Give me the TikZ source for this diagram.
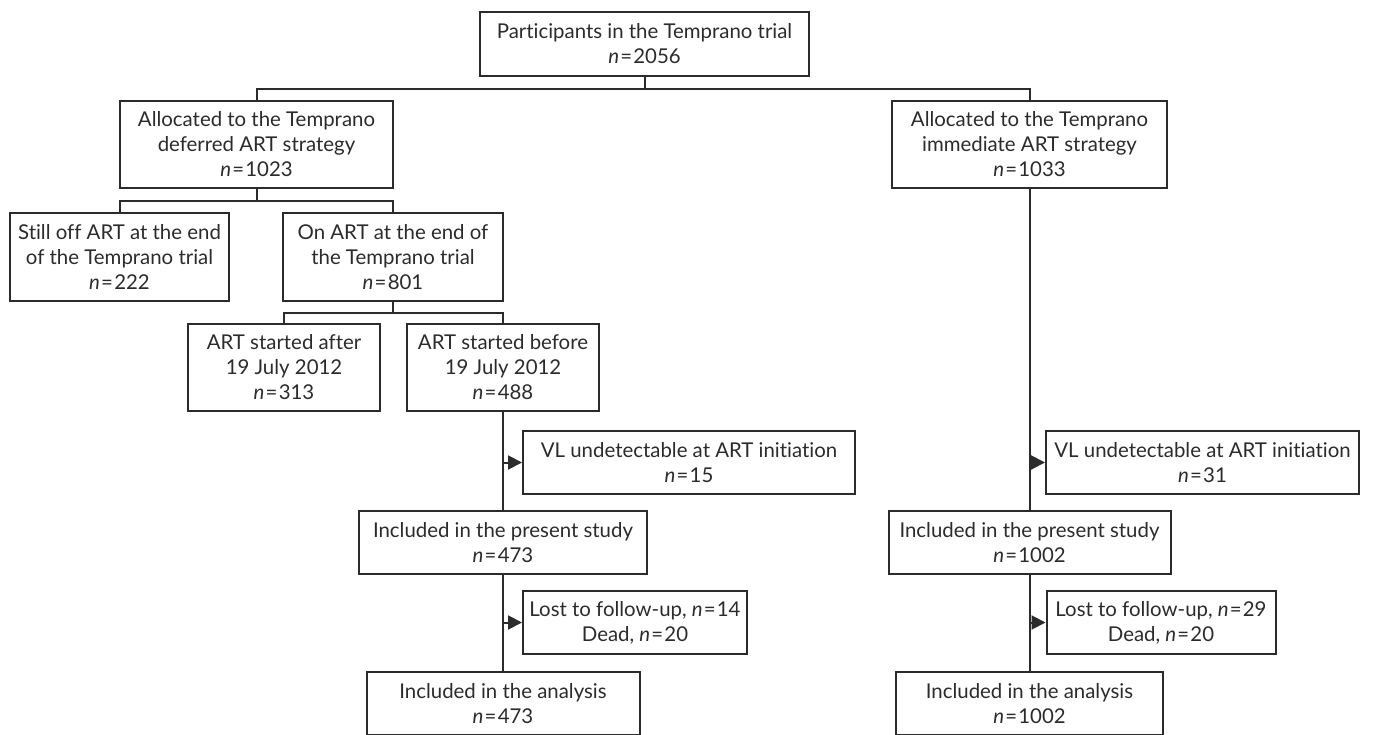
\documentclass[tikz,border=0pt]{standalone}
\usepackage{fontspec}
\setmainfont{Lato}[Ligatures={NoCommon,NoRequired,NoContextual}]
\usetikzlibrary{arrows.meta}

\definecolor{inkgray}{HTML}{2B2B2B}
\newcommand{\nval}[1]{\textit{n}\kern0.6pt=\kern0.6pt#1}

\begin{document}
\begin{tikzpicture}[
    x=0.5pt, y=-0.5pt,
    align=center,
    font=\fontsize{10.2}{12.5}\selectfont,
    text=inkgray,
    base/.style={rectangle, draw=inkgray, line width=1pt, inner sep=0pt},
    box/.style={base, minimum height=43.5pt},
    flat/.style={base, minimum height=31.5pt},
    link/.style={inkgray, line width=1pt},
    side/.style={link, -{Triangle[length=7pt,width=7pt]}}
  ]
  \useasboundingbox (0,0) rectangle (1376,734);

  \node (trial)   [flat, minimum width=164.5pt, minimum height=32pt] at (644.5,44)
                  {Participants in the Temprano trial\\ \nval{2056}};

  \node (deferred) [box, minimum width=136.5pt] at (256.5,144.5)
                  {Allocated to the Temprano\\ deferred ART strategy\\ \nval{1023}};
  \node (immed)   [box, minimum width=137.5pt] at (1029.5,144.5)
                  {Allocated to the Temprano\\ immediate ART strategy\\ \nval{1033}};

  \node (offart)  [box, minimum width=109.5pt, minimum height=44pt] at (119.5,257)
                  {Still off ART at the end\\ of the Temprano trial\\ \nval{222}};
  \node (onart)   [box, minimum width=110pt, minimum height=44pt] at (393,257)
                  {On ART at the end of\\ the Temprano trial\\ \nval{801}};

  \node (after)   [box, minimum width=96pt] at (284,367.5)
                  {ART started after\\ 19 July 2012\\ \nval{313}};
  \node (before)  [box, minimum width=96pt] at (503,367.5)
                  {ART started before\\ 19 July 2012\\ \nval{488}};

  % deferred arm, lower part
  \node (vlL)     [flat, minimum width=166pt] at (689,462.5)
                  {VL undetectable at ART initiation\\ \nval{15}};
  \node (studyL)  [flat, minimum width=144pt] at (503,542.5)
                  {Included in the present study\\ \nval{473}};
  \node (lostL)   [flat, minimum width=112pt] at (635,622.5)
                  {Lost to follow-up, \nval{14}\\ Dead, \nval{20}};
  \node (anaL)    [flat, minimum width=136.5pt] at (503,703.5)
                  {Included in the analysis\\ \nval{473}};

  % immediate arm, lower part
  \node (vlR)     [flat, minimum width=156.5pt] at (1202.5,462.5)
                  {VL undetectable at ART initiation\\ \nval{31}};
  \node (studyR)  [flat, minimum width=141pt] at (1029.5,542.5)
                  {Included in the present study\\ \nval{1002}};
  \node (lostR)   [flat, minimum width=114.5pt] at (1161,622.5)
                  {Lost to follow-up, \nval{29}\\ Dead, \nval{20}};
  \node (anaR)    [flat, minimum width=133.5pt] at (1029.5,703.5)
                  {Included in the analysis\\ \nval{1002}};

  % splits
  \draw[link] (trial.south) -- ++(0,12) coordinate (j0);
  \draw[link] (deferred.north) |- (j0) -| (immed.north);

  \draw[link] (deferred.south) -- ++(0,12) coordinate (j1);
  \draw[link] (offart.north) |- (j1) -| (onart.north);

  \draw[link] (onart.south) -- ++(0,11) coordinate (j2);
  \draw[link] (after.north) |- (j2) -| (before.north);

  % straight runs with side exits
  \draw[link] (before.south) -- (studyL.north);
  \draw[link] (studyL.south) -- (anaL.north);
  \draw[link] (immed.south)  -- (studyR.north);
  \draw[link] (studyR.south) -- (anaR.north);

  \draw[side] (before.south |- vlL.west)   -- (vlL.west);
  \draw[side] (studyL.south |- lostL.west) -- (lostL.west);
  \draw[side] (immed.south |- vlR.west)    -- (vlR.west);
  \draw[side] (studyR.south |- lostR.west) -- (lostR.west);
\end{tikzpicture}
\end{document}
